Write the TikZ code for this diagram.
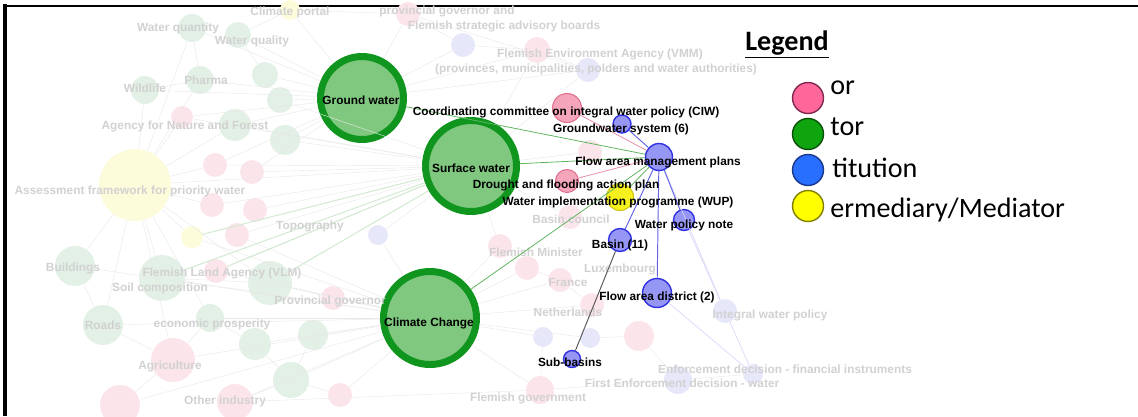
\documentclass[tikz,border=0pt]{standalone}
\usepackage{fontspec}
\newfontfamily\lblfont{Liberation Sans}
\newfontfamily\legfont{Carlito}
\definecolor{hubfill}{RGB}{128,200,128}
\definecolor{hubring}{RGB}{16,150,30}
\definecolor{actfill}{RGB}{244,165,185}
\definecolor{actline}{RGB}{225,110,145}
\definecolor{instfill}{RGB}{150,150,245}
\definecolor{instline}{RGB}{50,50,225}
\definecolor{medfill}{RGB}{245,240,30}
\definecolor{medline}{RGB}{205,195,20}
\definecolor{fgfill}{RGB}{227,240,229}
\definecolor{fpfill}{RGB}{252,229,234}
\definecolor{fbfill}{RGB}{231,231,250}
\definecolor{fyfill}{RGB}{252,251,218}
\definecolor{greenedge}{RGB}{95,180,95}
\definecolor{pinkedge}{RGB}{232,140,165}
\definecolor{blueedge}{RGB}{100,100,230}
\definecolor{legpink}{RGB}{255,102,153}
\definecolor{legpinkline}{RGB}{128,40,80}
\definecolor{leggreen}{RGB}{15,165,15}
\definecolor{leggreenline}{RGB}{10,80,10}
\definecolor{legblue}{RGB}{40,110,255}
\definecolor{legblueline}{RGB}{25,55,140}
\definecolor{legyellow}{RGB}{255,255,0}
\definecolor{legyellowline}{RGB}{128,128,0}
\begin{document}
\begin{tikzpicture}[x=0.02cm,y=-0.02cm,
  sz/.style={minimum size=#1*0.04cm},
  vtx/.style={circle,inner sep=0pt},
  hub/.style={vtx,draw=hubring,fill=hubfill,line width=0.14cm},
  actor/.style={vtx,draw=actline,fill=actfill,line width=0.6pt},
  inst/.style={vtx,draw=instline,fill=instfill,line width=0.8pt},
  medi/.style={vtx,draw=medline,fill=medfill,line width=0.6pt},
  fgreen/.style={vtx,fill=fgfill},
  fpink/.style={vtx,fill=fpfill},
  fblue/.style={vtx,fill=fbfill},
  fyellow/.style={vtx,fill=fyfill},
  lbl/.style={font=\lblfont\bfseries\fontsize{6.75}{8}\selectfont,inner sep=0pt,anchor=base},
  flbl/.style={lbl,text=black!18},
  bgedge/.style={draw=black!9,line width=0.25pt},
  bggedge/.style={draw=greenedge!28,line width=0.6pt},
  fbedge/.style={draw=blueedge!25,line width=0.4pt},
  gedge/.style={draw=greenedge,line width=0.45pt},
  pedge/.style={draw=pinkedge,line width=0.45pt},
  bedge/.style={draw=blueedge,line width=0.55pt},
  kedge/.style={draw=black!65,line width=0.55pt},
  legc/.style={vtx,sz=15.5,line width=0.8pt},
  legt/.style={font=\legfont\fontsize{16}{19}\selectfont,inner sep=0pt,anchor=base west}]
\useasboundingbox (0,0) rectangle (1138,416);
\draw[line width=0.08cm] (5,4) -- (5,416);
\draw[line width=0.05cm] (3,6) -- (1138,6);

\node[fgreen,sz=14] (g1) at (192,28) {};
\node[fgreen,sz=13] (g2) at (238,35) {};
\node[fgreen,sz=14] (g3) at (145,90) {};
\node[fgreen,sz=14] (g4) at (200,80) {};
\node[fgreen,sz=13] (g5) at (265,75) {};
\node[fgreen,sz=16] (g6) at (235,125) {};
\node[fgreen,sz=13] (g7) at (280,100) {};
\node[fgreen,sz=15] (g8) at (285,140) {};
\node[fgreen,sz=20] (g9) at (75,266) {};
\node[fgreen,sz=20] (g10) at (103,325) {};
\node[fgreen,sz=23] (g11) at (162,278) {};
\node[fgreen,sz=22] (g12) at (270,283) {};
\node[fgreen,sz=14] (g13) at (210,318) {};
\node[fgreen,sz=16] (g14) at (255,344) {};
\node[fgreen,sz=15] (g15) at (313,335) {};
\node[fgreen,sz=18] (g16) at (291,380) {};
\node[fyellow,sz=36] (y1) at (135,185) {};
\node[fyellow,sz=10] (y2) at (290,10) {};
\node[fyellow,sz=11] (y3) at (192,237) {};
\node[fpink,sz=11] (p1) at (182,117) {};
\node[fpink,sz=22] (p2) at (173,360) {};
\node[fpink,sz=20] (p3) at (120,405) {};
\node[fpink,sz=18] (p4) at (235,402) {};
\node[fpink,sz=12] (p5) at (215,165) {};
\node[fpink,sz=12] (p6) at (252,172) {};
\node[fpink,sz=12] (p7) at (212,205) {};
\node[fpink,sz=12] (p8) at (255,210) {};
\node[fpink,sz=12] (p9) at (237,235) {};
\node[fpink,sz=12] (p10) at (216,271) {};
\node[fpink,sz=12] (p11) at (333,298) {};
\node[fpink,sz=12] (p12) at (340,395) {};
\node[fpink,sz=12] (p13) at (408,14) {};
\node[fpink,sz=13] (p14) at (537,50) {};
\node[fpink,sz=12] (p15) at (570,217) {};
\node[fpink,sz=12] (p16) at (500,246) {};
\node[fpink,sz=12] (p17) at (527,268) {};
\node[fpink,sz=12] (p18) at (560,280) {};
\node[fpink,sz=12] (p19) at (592,305) {};
\node[fpink,sz=15] (p20) at (639,336) {};
\node[fpink,sz=14] (p21) at (540,390) {};
\node[fpink,sz=12] (p22) at (590,152) {};
\node[fblue,sz=12] (b1) at (463,45) {};
\node[fblue,sz=12] (b2) at (588,70) {};
\node[fblue,sz=10] (b3) at (543,337) {};
\node[fblue,sz=10] (b4) at (590,338) {};
\node[fblue,sz=12] (b5) at (725,311) {};
\node[fblue,sz=14] (b6) at (678,380) {};
\node[fblue,sz=10] (b7) at (753,374) {};
\node[fblue,sz=10] (b8) at (378,235) {};

\node[hub,sz=41.5] (gw) at (362,98) {};
\node[hub,sz=45.5] (sw) at (471,166) {};
\node[hub,sz=46.5] (cc) at (430,318) {};

\foreach \a in {g9,g10,g11,g12,g13,g14,g15,g16,p2,p3,p4,p10,p11,p12,p16,p17,p19,p21,b3,b8,y3,p9,p18,b4}
  \draw[bgedge] (\a) -- (cc);
\foreach \a in {g6,g7,g8,p5,p6,p7,p8,p9,p10,y1,p16,p15,b8,p1,p22,b2,p14}
  \draw[bgedge] (\a) -- (sw);
\foreach \a in {g1,g2,g3,g4,g5,g6,g7,p1,y2,p13,b1,g8,p5,p6,b2,p14}
  \draw[bgedge] (\a) -- (gw);
\foreach \a in {g3,g9,g10,g11,g13,p1,p5,p7,y3,g6,g4,p2,g1,g12}
  \draw[bgedge] (\a) -- (y1);
\foreach \a/\b in {g1/g4,g2/g5,g3/g4,g9/g10,g10/p2,p2/g13,g11/g12,p3/p2,p4/g16,g14/g16,
  p13/b1,b1/p14,p14/b2,b2/p13,b6/b7,b6/p20,p20/b4,b3/p21,p21/b6,p16/p17,p17/p18,p18/p19,
  g13/g14,g15/g16,p12/g16,p4/p21,y2/g2,y2/p13,g12/p11}
  \draw[bgedge] (\a) -- (\b);
\foreach \a in {g11,g12,y3,p10}
  \draw[bggedge] (\a) -- (sw);

\node[flbl] (tquantity) at (178,31) {Water quantity};
\node[flbl] (tquality) at (252,44) {Water quality};
\node[flbl] (tportal) at (290,15) {Climate portal};
\node[flbl] (twildlife) at (145,92) {Wildlife};
\node[flbl] (tpharma) at (206,84) {Pharma};
\node[flbl] (tnature) at (185,129) {Agency for Nature and Forest};
\node[flbl] (tassess) at (130,194) {Assessment framework for priority water};
\node[flbl] (tbuild) at (73,271) {Buildings};
\node[flbl] (troads) at (103,329) {Roads};
\node[flbl] (tsoil) at (160,291) {Soil composition};
\node[flbl] (tvlm) at (222,276) {Flemish Land Agency (VLM)};
\node[flbl] (tecon) at (212,327) {economic prosperity};
\node[flbl] (tagri) at (170,369) {Agriculture};
\node[flbl] (tindus) at (225,404) {Other industry};
\node[flbl] (ttopo) at (310,229) {Topography};
\node[flbl] (tprov) at (330,304) {Provincial governor};
\node[flbl] (tgov) at (528,401) {Flemish government};
\node[flbl] (tiwp) at (770,318) {Integral water policy};
\node[flbl] (tfirst) at (682,387) {First Enforcement decision - water};
\node[flbl] (tfin) at (785,373) {Enforcement decision - financial instruments};
\node[flbl] (tadvis) at (504,29) {Flemish strategic advisory boards};
\node[flbl] (tgovernor) at (447,14) {provincial governor and};
\node[flbl] (tvmm) at (600,57) {Flemish Environment Agency (VMM)};
\node[flbl] (tauth) at (596,72) {(provinces, municipalities, polders and water authorities)};
\node[flbl] (tcouncil) at (571,223) {Basin council};
\node[flbl] (tminis) at (536,256) {Flemish Minister};
\node[flbl] (tlux) at (620,272) {Luxembourg};
\node[flbl] (tfrance) at (568,286) {France};
\node[flbl] (tneth) at (568,316) {Netherlands};

\node[actor,sz=14.5] (ciw) at (567,108) {};
\node[actor,sz=11.5] (dfap) at (567,181) {};
\node[medi,sz=13.5] (wup) at (620,197) {};
\node[inst,sz=9] (gws) at (622,124) {};
\node[inst,sz=13.5] (famp) at (659,157) {};
\node[inst,sz=10.5] (wpn) at (684,220) {};
\node[inst,sz=11.5] (basin) at (620,240) {};
\node[inst,sz=14.5] (fad) at (657,293) {};
\node[inst,sz=8.5] (sub) at (572,359) {};

\draw[fbedge] (famp) -- (b5);
\draw[fbedge] (wpn) -- (b5);
\draw[fbedge] (fad) -- (b7);
\draw[fbedge] (b5) -- (b7);
\draw[gedge] (gw) -- (famp);
\draw[gedge] (sw) -- (famp);
\draw[gedge] (cc) -- (famp);
\draw[gedge] (wup) -- (famp);
\draw[pedge] (ciw) -- (famp);
\draw[pedge] (dfap) -- (famp);
\draw[bedge] (famp) -- (gws);
\draw[bedge] (famp) -- (wpn);
\draw[bedge] (famp) -- (basin);
\draw[bedge] (famp) -- (fad);
\draw[kedge] (basin) -- (sub);

\node[lbl] (tgw) at (361,104) {Ground water};
\node[lbl] (tsw) at (471,172) {Surface water};
\node[lbl] (tcc) at (429,326) {Climate Change};
\node[lbl] (tciw) at (566,115) {Coordinating committee on integral water policy (CIW)};
\node[lbl] (tgws) at (621,132) {Groundwater system (6)};
\node[lbl] (tfamp) at (658,165) {Flow area management plans};
\node[lbl] (tdfap) at (566,188) {Drought and flooding action plan};
\node[lbl] (twup) at (618,205) {Water implementation programme (WUP)};
\node[lbl] (twpn) at (684,228) {Water policy note};
\node[lbl] (tbasin) at (620,248) {Basin (11)};
\node[lbl] (tfad) at (657,300) {Flow area district (2)};
\node[lbl] (tsub) at (570,366) {Sub-basins};

\node[font=\legfont\bfseries\fontsize{16}{19}\selectfont,inner sep=0pt,anchor=base] (legend) at (787,50) {\underline{Legend}};
\node[legt] (tactor) at (830,94) {or};
\node[legt] (tfactor) at (830,135) {tor};
\node[legt] (tinst) at (832,177) {titution};
\node[legt] (tmedi) at (830,217) {ermediary/Mediator};
\node[legc,fill=legpink,draw=legpinkline] (kactor) at (808,98) {};
\node[legc,fill=leggreen,draw=leggreenline] (kfactor) at (808,134) {};
\node[legc,fill=legblue,draw=legblueline] (kinst) at (808,170) {};
\node[legc,fill=legyellow,draw=legyellowline] (kmedi) at (808,206) {};
\end{tikzpicture}
\end{document}
